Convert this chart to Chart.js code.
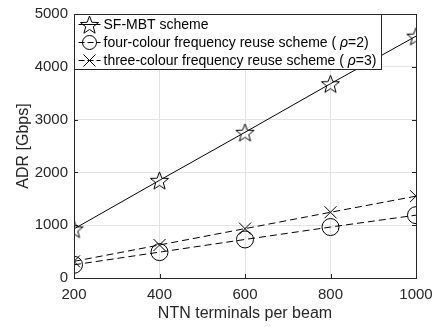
<!DOCTYPE html>
<html lang="en">
<head>
    <meta charset="UTF-8">
    <title>ADR vs NTN terminals per beam</title>
    <script src="https://cdn.jsdelivr.net/npm/chart.js"></script>
    <style>
        body {
            margin: 0;
            padding: 0;
            background: #fff;
        }
        #wrap {
            width: 433px;
            height: 327px;
        }
    </style>
</head>
<body>
    <div id="wrap"><canvas id="adrChart" width="433" height="327"></canvas></div>

    <script>
        // data
        const terminals = [200, 400, 600, 800, 1000];
        const sfMbt = [930, 1850, 2760, 3680, 4580];
        const fourColour = [250, 490, 730, 965, 1190];
        const threeColour = [315, 625, 935, 1245, 1550];

        const xTicks = [200, 400, 600, 800, 1000];
        const yTicks = [0, 1000, 2000, 3000, 4000, 5000];

        const legendLabels = [
            ["SF-MBT scheme"],
            ["four-colour frequency reuse scheme ( ", "ρ", "=2)"],
            ["three-colour frequency reuse scheme ( ", "ρ", "=3)"]
        ];

        const FONT = "'Liberation Sans', Arial, Helvetica, sans-serif";

        // MATLAB-like pentagram marker
        function makeStar(size) {
            const c = document.createElement("canvas");
            c.width = size + 2;
            c.height = size + 2;
            const g = c.getContext("2d");
            const cx = c.width / 2, cy = c.height / 2 + 1;
            const ro = size / 2, ri = ro * 0.42;
            g.beginPath();
            for (let i = 0; i < 10; i++) {
                const r = i % 2 === 0 ? ro : ri;
                const a = -Math.PI / 2 + i * Math.PI / 5;
                const px = cx + r * Math.cos(a), py = cy + r * Math.sin(a);
                if (i === 0) g.moveTo(px, py); else g.lineTo(px, py);
            }
            g.closePath();
            g.strokeStyle = "#000";
            g.lineWidth = 1;
            g.stroke();
            return c;
        }
        const starImg = makeStar(19);

        function toPoints(ys) {
            return terminals.map((x, i) => ({ x: x, y: ys[i] }));
        }

        const framePlugin = {
            id: "frame",
            afterDraw(chart) {
                const ctx = chart.ctx;
                const a = chart.chartArea;
                const xs = chart.scales.x, ys = chart.scales.y;
                ctx.save();
                ctx.strokeStyle = "#262626";
                ctx.lineWidth = 1;
                // inward tick marks
                ctx.beginPath();
                xTicks.forEach(v => {
                    const px = Math.round(xs.getPixelForValue(v)) + 0.5;
                    ctx.moveTo(px, a.bottom); ctx.lineTo(px, a.bottom - 4);
                    ctx.moveTo(px, a.top); ctx.lineTo(px, a.top + 4);
                });
                yTicks.forEach(v => {
                    const py = Math.round(ys.getPixelForValue(v)) + 0.5;
                    ctx.moveTo(a.left, py); ctx.lineTo(a.left + 4, py);
                    ctx.moveTo(a.right, py); ctx.lineTo(a.right - 4, py);
                });
                ctx.stroke();
                ctx.strokeRect(Math.round(a.left) + 0.5, Math.round(a.top) + 0.5,
                    Math.round(a.right - a.left), Math.round(a.bottom - a.top));

                // legend box
                const lx = Math.round(a.left) + 0.5, ly = Math.round(a.top) + 0.5;
                const rowH = 18;
                const fs = "14px ";
                let maxW = 0;
                legendLabels.forEach(parts => {
                    let w = 0;
                    parts.forEach((p, k) => {
                        ctx.font = (k === 1 ? "italic " : "") + fs + FONT;
                        w += ctx.measureText(p).width;
                    });
                    maxW = Math.max(maxW, w);
                });
                const boxW = Math.round(29 + maxW + 5);
                const boxH = rowH * 3 + 1;
                ctx.fillStyle = "#fff";
                ctx.fillRect(lx, ly, boxW, boxH);
                ctx.strokeStyle = "#262626";
                ctx.strokeRect(lx, ly, boxW, boxH);

                const dashes = [[], [6, 3], [6, 3]];
                legendLabels.forEach((parts, i) => {
                    const cy = ly + 10 + i * rowH;
                    ctx.strokeStyle = "#000";
                    ctx.setLineDash(dashes[i]);
                    ctx.beginPath();
                    ctx.moveTo(lx + 4, cy); ctx.lineTo(lx + 26, cy);
                    ctx.stroke();
                    ctx.setLineDash([]);
                    const mx = lx + 15;
                    if (i === 0) {
                        ctx.drawImage(starImg, mx - starImg.width / 2, cy - starImg.height / 2);
                    } else if (i === 1) {
                        ctx.beginPath();
                        ctx.arc(mx, cy, 7, 0, Math.PI * 2);
                        ctx.stroke();
                    } else {
                        ctx.beginPath();
                        ctx.moveTo(mx - 6, cy - 6); ctx.lineTo(mx + 6, cy + 6);
                        ctx.moveTo(mx + 6, cy - 6); ctx.lineTo(mx - 6, cy + 6);
                        ctx.stroke();
                    }
                    let tx = lx + 29;
                    ctx.fillStyle = "#000";
                    ctx.textBaseline = "middle";
                    parts.forEach((p, k) => {
                        ctx.font = (k === 1 ? "italic " : "") + fs + FONT;
                        ctx.fillText(p, tx, cy + 1);
                        tx += ctx.measureText(p).width;
                    });
                });
                ctx.restore();
            }
        };

        const ctx = document.getElementById("adrChart").getContext("2d");
        new Chart(ctx, {
            type: "line",
            data: {
                datasets: [
                    {
                        label: "SF-MBT scheme",
                        data: toPoints(sfMbt),
                        borderColor: "#000",
                        borderWidth: 1,
                        pointStyle: starImg,
                        fill: false
                    },
                    {
                        label: "four-colour frequency reuse scheme (ρ=2)",
                        data: toPoints(fourColour),
                        borderColor: "#000",
                        borderWidth: 1,
                        borderDash: [7, 4],
                        pointStyle: "circle",
                        pointRadius: 8.5,
                        pointBorderColor: "#000",
                        pointBackgroundColor: "rgba(0,0,0,0)",
                        pointBorderWidth: 1,
                        fill: false
                    },
                    {
                        label: "three-colour frequency reuse scheme (ρ=3)",
                        data: toPoints(threeColour),
                        borderColor: "#000",
                        borderWidth: 1,
                        borderDash: [7, 4],
                        pointStyle: "crossRot",
                        pointRadius: 8.5,
                        pointBorderColor: "#000",
                        pointBorderWidth: 1,
                        fill: false
                    }
                ]
            },
            options: {
                responsive: false,
                animation: false,
                events: [],
                layout: {
                    padding: { left: 0, right: 17, top: 14, bottom: 0 }
                },
                plugins: {
                    legend: { display: false },
                    tooltip: { enabled: false }
                },
                scales: {
                    x: {
                        type: "linear",
                        min: 200,
                        max: 1000,
                        afterBuildTicks: s => { s.ticks = xTicks.map(v => ({ value: v })); },
                        afterFit: s => {
                            s.height = 49;
                            s.paddingLeft = 0;
                            s.paddingRight = 0;
                        },
                        grid: { color: "#e3e3e3", drawTicks: false },
                        border: { display: false },
                        ticks: {
                            color: "#262626",
                            padding: 8,
                            font: { family: FONT, size: 15 },
                            callback: v => String(v)
                        },
                        title: {
                            display: true,
                            text: "NTN terminals per beam",
                            color: "#262626",
                            padding: { top: 0, bottom: 4 },
                            font: { family: FONT, size: 16 }
                        }
                    },
                    y: {
                        min: 0,
                        max: 5000,
                        afterBuildTicks: s => { s.ticks = yTicks.map(v => ({ value: v })); },
                        afterFit: s => {
                            s.width = 74;
                            s.paddingTop = 0;
                            s.paddingBottom = 0;
                        },
                        grid: { color: "#e3e3e3", drawTicks: false },
                        border: { display: false },
                        ticks: {
                            color: "#262626",
                            padding: 6,
                            font: { family: FONT, size: 15 },
                            callback: v => String(v)
                        },
                        title: {
                            display: true,
                            text: "ADR [Gbps]",
                            color: "#262626",
                            padding: { top: 14, bottom: 0 },
                            font: { family: FONT, size: 16 }
                        }
                    }
                }
            },
            plugins: [framePlugin]
        });
    </script>
</body>
</html>
